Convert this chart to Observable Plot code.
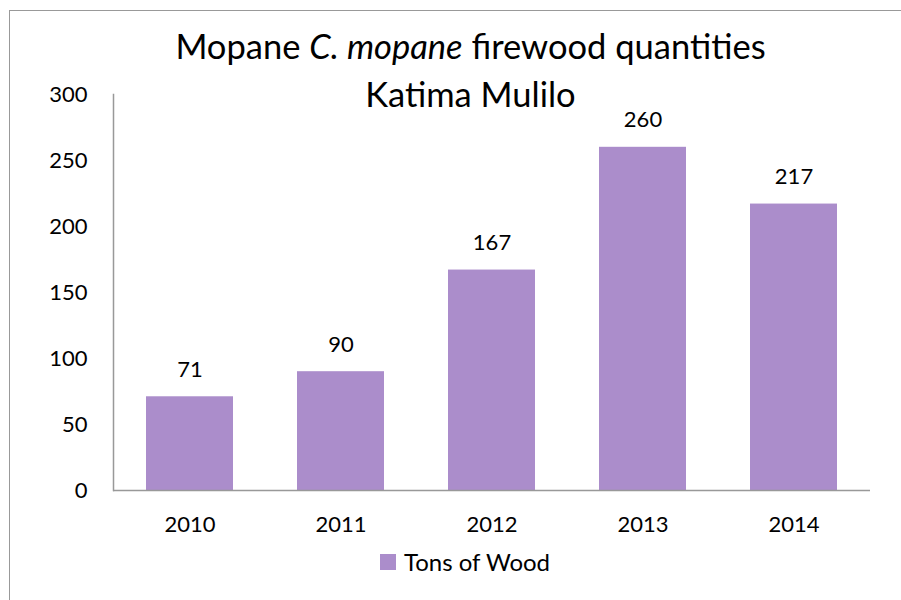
<!DOCTYPE html>
<html><head><meta charset="utf-8">
<script src="https://cdn.jsdelivr.net/npm/d3@7"></script>
<script src="https://cdn.jsdelivr.net/npm/@observablehq/plot@0.6"></script>
<style>
body{margin:0;background:#fff;font-family:Lato,"Open Sans",sans-serif;}
#wrap{position:relative;width:901px;height:600px;overflow:hidden;}
#border{position:absolute;left:9px;top:10px;width:920px;height:620px;border:1px solid #999;box-sizing:border-box;}
#title{position:absolute;left:0;width:941px;top:22px;text-align:center;font-size:34.5px;line-height:48px;color:#000;}
#legend{position:absolute;left:380px;top:547px;font-size:24px;display:flex;align-items:center;color:#000;}
#legend span.sw{display:inline-block;width:16px;height:16px;background:#ab8dcb;margin-right:8px;}
#chart{position:absolute;left:0;top:0;}
</style></head>
<body>
<div id="wrap">
<div id="border"></div>
<div id="chart"></div>
<div id="title">Mopane <i>C. mopane</i> firewood quantities<br>Katima Mulilo</div>
<div id="legend"><span class="sw"></span>Tons of Wood</div>
</div>
<script>
const years = ["2010","2011","2012","2013","2014"];
const tons = [71, 90, 167, 260, 217];
const yTicks = [0, 50, 100, 150, 200, 250, 300];
const data = years.map((y,i)=>({year:y, tons:tons[i]}));
const chart = Plot.plot({
  width: 901, height: 600,
  marginTop: 94, marginBottom: 110, marginLeft: 113, marginRight: 31,
  style: {fontFamily: "Lato, 'Open Sans', sans-serif", fontSize: "22px", color: "#000", background: "transparent"},
  x: {domain: years, paddingInner: 0.425, paddingOuter: 0.2125, label: null},
  y: {domain: [0, 300], label: null},
  marks: [
    Plot.barY(data, {x: "year", y: "tons", fill: "#ab8dcb"}),
    Plot.ruleY([0], {stroke: "#999", strokeWidth: 1.5}),
    Plot.frame({anchor: "left", stroke: "#999", strokeWidth: 1.5}),
    Plot.text(data, {x: "year", y: "tons", text: d => String(d.tons), dy: -27, fontSize: 22, fill: "#000"}),
    Plot.axisX({tickSize: 0, tickPadding: 26, fontSize: 22, label: null}),
    Plot.axisY({ticks: yTicks, tickSize: 0, tickPadding: 26, fontSize: 22, label: null})
  ]
});
document.getElementById("chart").appendChild(chart);
</script>
</body></html>
